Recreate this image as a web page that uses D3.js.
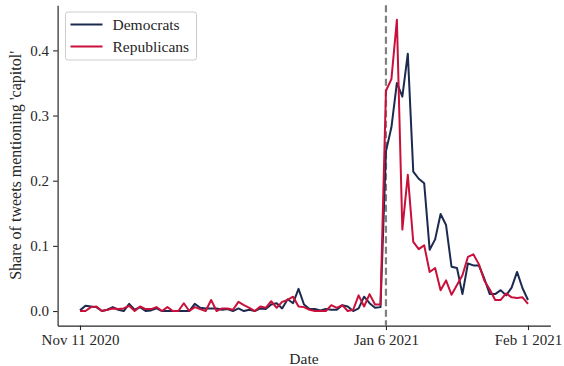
<!DOCTYPE html>
<html>
<head>
<meta charset="utf-8">
<script src="https://cdn.jsdelivr.net/npm/d3@7"></script>
<style>
  html, body { margin: 0; padding: 0; background: #fff; }
  svg { display: block; }
  text { font-family: "Liberation Serif", "Times New Roman", serif; fill: #262626; }
</style>
</head>
<body>
<svg id="chart" width="564" height="366"></svg>
<script>
// Daily share of tweets mentioning "capitol", Nov 11 2020 .. Feb 1 2021
const startDate = new Date(2020, 10, 11);
const democrats = [
  0.001, 0.008, 0.007, 0.006, 0.000, 0.002, 0.006, 0.002, 0.000, 0.011,
  0.002, 0.006, 0.000, 0.001, 0.004, 0.000, 0.000, 0.000, 0.000, 0.000,
  0.000, 0.011, 0.005, 0.004, 0.004, 0.004, 0.002, 0.003, 0.000, 0.004,
  0.000, 0.002, 0.000, 0.004, 0.003, 0.010, 0.012, 0.004, 0.018, 0.012,
  0.034, 0.010, 0.003, 0.003, 0.001, 0.003, 0.002, 0.002, 0.009, 0.007,
  0.000, 0.004, 0.022, 0.012, 0.005, 0.006, 0.245, 0.282, 0.350, 0.329,
  0.395, 0.214, 0.203, 0.196, 0.094, 0.110, 0.149, 0.132, 0.068, 0.066,
  0.026, 0.073, 0.070, 0.070, 0.050, 0.026, 0.026, 0.032, 0.024, 0.036,
  0.060, 0.035, 0.017
];
const republicans = [
  0.000, 0.000, 0.006, 0.007, 0.000, 0.002, 0.004, 0.003, 0.004, 0.008,
  0.000, 0.007, 0.003, 0.003, 0.006, 0.000, 0.006, 0.000, 0.000, 0.012,
  0.000, 0.006, 0.003, 0.000, 0.017, 0.000, 0.004, 0.004, 0.002, 0.014,
  0.009, 0.005, 0.000, 0.007, 0.005, 0.015, 0.005, 0.014, 0.017, 0.022,
  0.007, 0.006, 0.002, 0.000, 0.000, 0.000, 0.009, 0.005, 0.009, 0.000,
  0.002, 0.024, 0.007, 0.026, 0.010, 0.010, 0.338, 0.356, 0.447, 0.125,
  0.209, 0.106, 0.095, 0.101, 0.060, 0.066, 0.032, 0.047, 0.025, 0.040,
  0.055, 0.083, 0.087, 0.072, 0.047, 0.033, 0.017, 0.017, 0.027, 0.021,
  0.020, 0.021, 0.011
];
const seriesNames = ["Democrats", "Republicans"];
const seriesColors = ["#1d2a50", "#c8103a"];
const xTickDates = [new Date(2020, 10, 11), new Date(2021, 0, 6), new Date(2021, 1, 1)];
const xTickLabels = ["Nov 11 2020", "Jan 6 2021", "Feb 1 2021"];
const yTicks = [0.0, 0.1, 0.2, 0.3, 0.4];
const eventDate = new Date(2021, 0, 6);

const dates = democrats.map((_, i) => d3.timeDay.offset(startDate, i));
const series = [democrats, republicans];

const svg = d3.select("#chart");
const plot = { left: 57.6, right: 550.4, top: 5.2, bottom: 325.6 };

// 5% padding on both axes around the data extent
const tExt = d3.extent(dates);
const tPad = (tExt[1] - tExt[0]) * 0.05;
const x = d3.scaleTime()
  .domain([new Date(+tExt[0] - tPad), new Date(+tExt[1] + tPad)])
  .range([plot.left, plot.right]);

const allVals = democrats.concat(republicans);
const vMin = d3.min(allVals), vMax = d3.max(allVals);
const vPad = (vMax - vMin) * 0.05;
const y = d3.scaleLinear()
  .domain([vMin - vPad, vMax + vPad])
  .range([plot.bottom, plot.top]);

// axes
const xAxis = svg.append("g")
  .attr("transform", `translate(0,${plot.bottom})`)
  .call(d3.axisBottom(x).tickValues(xTickDates)
    .tickFormat((d, i) => xTickLabels[i]).tickSize(4.5).tickSizeOuter(0).tickPadding(4));
const yAxis = svg.append("g")
  .attr("transform", `translate(${plot.left},0)`)
  .call(d3.axisLeft(y).tickValues(yTicks)
    .tickFormat(d3.format(".1f")).tickSize(4.5).tickSizeOuter(0).tickPadding(4));
[xAxis, yAxis].forEach(g => {
  g.select(".domain").attr("stroke", "#262626").attr("stroke-width", 1.2);
  g.selectAll(".tick line").attr("stroke", "#262626").attr("stroke-width", 1.1);
  g.selectAll(".tick text").style("font-family", '"Liberation Serif", serif')
    .style("font-size", "15px").attr("fill", "#262626");
});

// event marker
svg.append("line")
  .attr("x1", x(eventDate)).attr("x2", x(eventDate))
  .attr("y1", plot.top).attr("y2", plot.bottom)
  .attr("stroke", "#7f7f7f").attr("stroke-width", 2.2)
  .attr("stroke-dasharray", "7,3.5");

// series lines
const line = d3.line().x((d, i) => x(dates[i])).y(d => y(d));
series.forEach((vals, k) => {
  svg.append("path")
    .datum(vals)
    .attr("fill", "none")
    .attr("stroke", seriesColors[k])
    .attr("stroke-width", 2)
    .attr("stroke-linejoin", "round")
    .attr("d", line);
});

// axis titles
svg.append("text")
  .attr("x", (plot.left + plot.right) / 2).attr("y", 364)
  .attr("text-anchor", "middle").style("font-size", "15.5px")
  .text("Date");
svg.append("text")
  .attr("transform", `translate(21,${(plot.top + plot.bottom) / 2}) rotate(-90)`)
  .attr("text-anchor", "middle").style("font-size", "16px")
  .text("Share of tweets mentioning 'capitol'");

// legend
const leg = svg.append("g").attr("transform", "translate(65.5,12)");
leg.append("rect")
  .attr("width", 131).attr("height", 48).attr("rx", 2.5)
  .attr("fill", "#fff").attr("fill-opacity", 0.8)
  .attr("stroke", "#cccccc").attr("stroke-width", 1);
seriesNames.forEach((name, k) => {
  const yy = 12.5 + k * 22;
  leg.append("line")
    .attr("x1", 5).attr("x2", 37).attr("y1", yy).attr("y2", yy)
    .attr("stroke", seriesColors[k]).attr("stroke-width", 2);
  leg.append("text")
    .attr("x", 47).attr("y", yy).attr("dy", "0.35em")
    .style("font-size", "15.5px")
    .text(name);
});
</script>
</body>
</html>
